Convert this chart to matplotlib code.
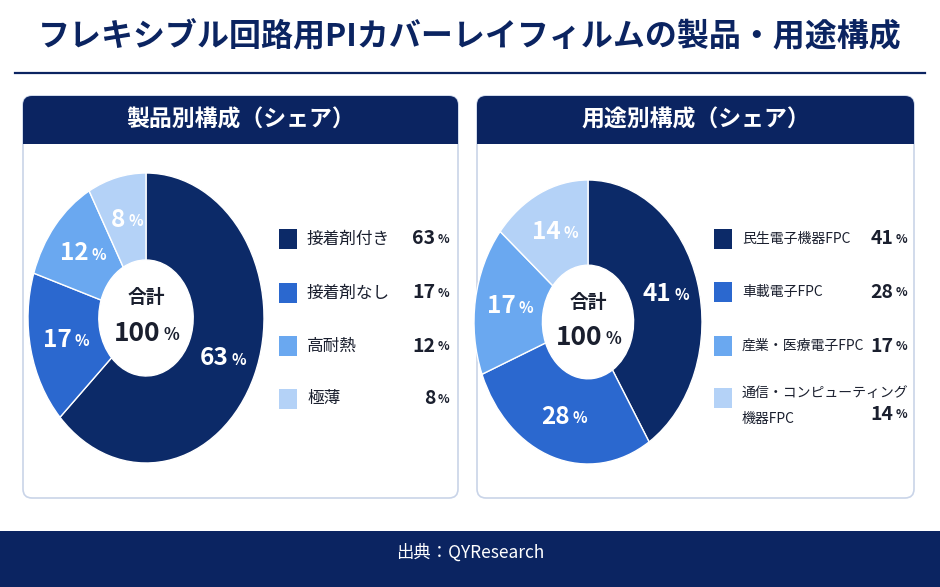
import matplotlib
matplotlib.use("Agg")
import matplotlib.pyplot as plt
from matplotlib.patches import FancyBboxPatch, Rectangle
import numpy as np

plt.rcParams['font.family'] = ['Noto Sans CJK JP', 'DejaVu Sans']

# data
title = "フレキシブル回路用PIカバーレイフィルムの製品・用途構成"
source = "出典：QYResearch"

product_title = "製品別構成（シェア）"
product_labels = ["接着剤付き", "接着剤なし", "高耐熱", "極薄"]
product_shares = [63, 17, 12, 8]

usage_title = "用途別構成（シェア）"
usage_labels = ["民生電子機器FPC", "車載電子FPC", "産業・医療電子FPC", "通信・コンピューティング\n機器FPC"]
usage_shares = [41, 28, 17, 14]

center_label = "合計"
center_total = "100"

NAVY = "#0b2461"
TXT = "#1a1f2e"
colors = ["#0c2a68", "#2b68cf", "#6aa8f0", "#b4d2f7"]

W, H = 940, 587
fig = plt.figure(figsize=(W / 100, H / 100), dpi=100)
fig.patch.set_facecolor("white")

bg = fig.add_axes([0, 0, 1, 1])
bg.set_xlim(0, W)
bg.set_ylim(H, 0)
bg.axis("off")

# title + rule
bg.text(W / 2, 37, title, ha="center", va="center", fontsize=23,
        fontweight="bold", color=NAVY)
bg.plot([15, 925], [73, 73], color=NAVY, lw=1.6)

# footer band
bg.add_patch(Rectangle((0, 531), W, H - 531, facecolor=NAVY, edgecolor="none"))
bg.text(W / 2, 553, source, ha="center", va="center", fontsize=12.5, color="white")


def pct(ax, x, y, num, size, color, ha="center"):
    # number followed by a smaller "%"
    nw = len(num) * 0.55 * size
    pw = 0.62 * size * 0.7
    gap = 0.12 * size
    total = nw + gap + pw
    x0 = -total / 2 if ha == "center" else -total
    ax.annotate(num, (x, y), xytext=(x0 + nw, 0), textcoords="offset points",
                ha="right", va="center", fontsize=size, fontweight="bold", color=color)
    ax.annotate("%", (x, y), xytext=(x0 + nw + gap, -0.05 * size),
                textcoords="offset points", ha="left", va="center",
                fontsize=size * 0.62, fontweight="bold", color=color)


def panel(x0, x1, head, labels, shares, pie_box, leg_sq_x, leg_val_x, rows, lab_fs):
    top, hb, bot = 96, 144, 498
    box = FancyBboxPatch((x0, top), x1 - x0, bot - top,
                         boxstyle="round,pad=0,rounding_size=9",
                         facecolor="white", edgecolor="#c9d4e8", lw=1.2, zorder=1)
    bg.add_patch(box)
    hdr = Rectangle((x0, top), x1 - x0, hb - top, facecolor=NAVY, edgecolor="none", zorder=2)
    bg.add_patch(hdr)
    hdr.set_clip_path(box)
    bg.text((x0 + x1) / 2, 120, head, ha="center", va="center", fontsize=16.5,
            fontweight="bold", color="white", zorder=3)

    # donut, stretched vertically like the reference
    cx, cy, rx, ry = pie_box
    ax = fig.add_axes([(cx - rx) / W, 1 - (cy + ry) / H, 2 * rx / W, 2 * ry / H])
    wedges, _ = ax.pie(shares, colors=colors, startangle=90, counterclock=False,
                       wedgeprops=dict(width=0.6, edgecolor="white", linewidth=1.0))
    ax.set_aspect("auto")
    ax.set_xlim(-1, 1)
    ax.set_ylim(-1, 1)
    for w, s in zip(wedges, shares):
        ang = np.deg2rad((w.theta1 + w.theta2) / 2)
        pct(ax, 0.7 * np.cos(ang), 0.7 * np.sin(ang), str(s), 17.5, "white")
    ax.text(0, 0.14, center_label, ha="center", va="center", fontsize=13.5,
            fontweight="bold", color=TXT)
    pct(ax, 0, -0.11, center_total, 19, TXT)

    # legend
    for i, (lab, s) in enumerate(zip(labels, shares)):
        y = rows[i]
        bg.add_patch(Rectangle((leg_sq_x, y - 10), 18, 20, facecolor=colors[i],
                               edgecolor="none", zorder=3))
        if "\n" in lab:
            l1, l2 = lab.split("\n")
            bg.text(leg_sq_x + 28, y - 4, l1, ha="left", va="center", fontsize=lab_fs,
                    color=TXT, zorder=3)
            bg.text(leg_sq_x + 28, y + 21, l2, ha="left", va="center", fontsize=lab_fs,
                    color=TXT, zorder=3)
            pct(bg, leg_val_x, y + 16, str(s), 14, TXT, ha="right")
        else:
            bg.text(leg_sq_x + 28, y, lab, ha="left", va="center", fontsize=lab_fs,
                    color=TXT, zorder=3)
            pct(bg, leg_val_x, y, str(s), 14, TXT, ha="right")


panel(23, 458, product_title, product_labels, product_shares,
      (146, 318, 118, 145), 279, 446, [239, 293, 346, 399], 12)
panel(477, 914, usage_title, usage_labels, usage_shares,
      (588, 322, 114, 142), 714, 904, [239, 292, 346, 398], 10)

fig.savefig("out.png", dpi=100, facecolor="white")
